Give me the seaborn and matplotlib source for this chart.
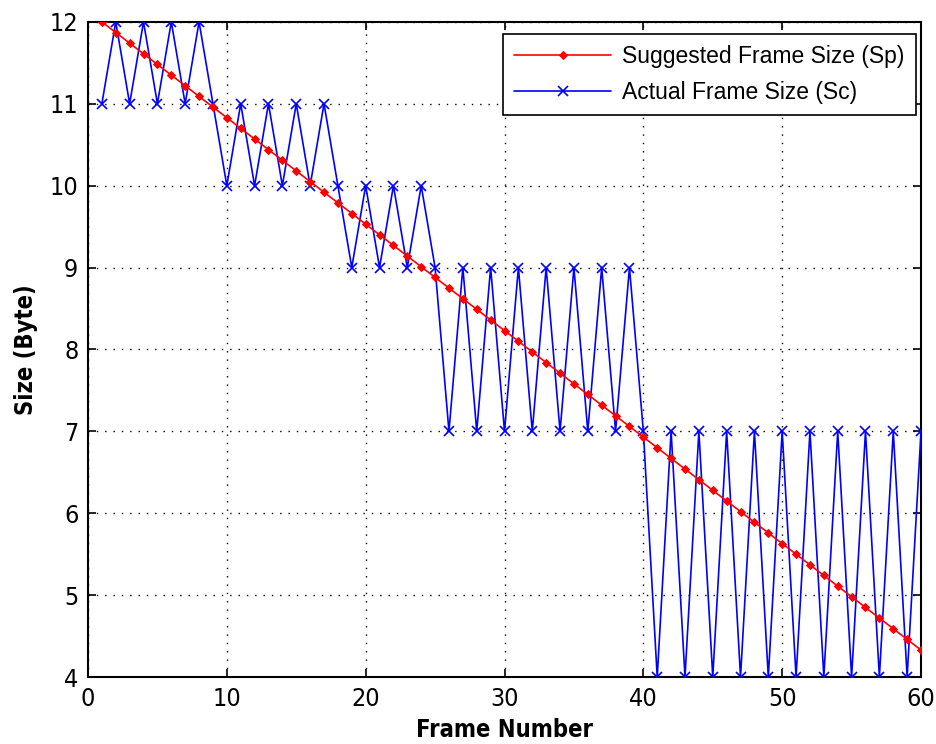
import matplotlib
matplotlib.use("Agg")
import matplotlib.pyplot as plt
import seaborn as sns
import pandas as pd

frames = list(range(1, 61))
suggested = [12.00, 11.87, 11.74, 11.61, 11.48, 11.35, 11.22, 11.09, 10.96, 10.83,
             10.70, 10.57, 10.44, 10.31, 10.18, 10.05, 9.92, 9.79, 9.66, 9.53,
             9.40, 9.27, 9.14, 9.01, 8.88, 8.75, 8.62, 8.49, 8.36, 8.23,
             8.10, 7.97, 7.84, 7.71, 7.58, 7.45, 7.32, 7.19, 7.06, 6.93,
             6.80, 6.67, 6.54, 6.41, 6.28, 6.15, 6.02, 5.89, 5.76, 5.63,
             5.50, 5.37, 5.24, 5.11, 4.98, 4.85, 4.72, 4.59, 4.46, 4.33]
actual = [11, 12, 11, 12, 11, 12, 11, 12, 11,
          10, 11, 10, 11, 10, 11, 10, 11, 10,
          9, 10, 9, 10, 9, 10, 9,
          7, 9, 7, 9, 7, 9, 7, 9, 7, 9, 7, 9, 7, 9, 7,
          4, 7, 4, 7, 4, 7, 4, 7, 4, 7, 4, 7, 4, 7, 4, 7, 4, 7, 4, 7]
series_names = ["Suggested Frame Size (Sp)", "Actual Frame Size (Sc)"]
x_ticks = [0, 10, 20, 30, 40, 50, 60]
y_ticks = [4, 5, 6, 7, 8, 9, 10, 11, 12]

sns.set_style("white")
plt.rcParams['font.family'] = ['DejaVu Sans']
plt.rcParams['text.color'] = 'black'
plt.rcParams['axes.labelcolor'] = 'black'
plt.rcParams['xtick.color'] = 'black'
plt.rcParams['ytick.color'] = 'black'

df = pd.DataFrame({"frame": frames, "sp": suggested, "sc": actual})

fig = plt.figure(figsize=(9.36, 7.44), dpi=100)
ax = fig.add_axes([0.094, 0.090, 0.890, 0.8806])

sns.lineplot(data=df, x="frame", y="sp", ax=ax, color="red", marker="D",
             markersize=4, markeredgecolor="red", linewidth=1.2,
             label=series_names[0], zorder=4)
sns.lineplot(data=df, x="frame", y="sc", ax=ax, color="blue", marker="x",
             markersize=7, markeredgecolor="blue", markeredgewidth=1.2,
             linewidth=1.2, label=series_names[1], zorder=3)

ax.set_xlim(0, 60)
ax.set_ylim(4, 12)
ax.set_xticks(x_ticks)
ax.set_yticks(y_ticks)
ax.set_xticklabels([str(t) for t in x_ticks], fontsize=18, fontstretch="condensed")
ax.set_yticklabels([str(t) for t in y_ticks], fontsize=18, fontstretch="condensed")
ax.grid(True, color="black", linestyle=(0, (1, 5)), linewidth=1.0)
ax.tick_params(direction="in", length=6, width=1.2, top=True, right=True,
               bottom=True, left=True, pad=7, colors="black")
for s in ax.spines.values():
    s.set_visible(True)
    s.set_color("black")
    s.set_linewidth(1.5)

ax.set_xlabel("Frame Number", fontsize=17, fontweight="bold",
              fontstretch="condensed", labelpad=5)
ax.set_ylabel("Size (Byte)", fontsize=17, fontweight="bold",
              fontstretch="condensed", labelpad=8)

leg = ax.legend(loc="upper right", frameon=True, fancybox=False,
                edgecolor="black", framealpha=1, borderpad=0.5,
                borderaxespad=0, handlelength=4.2, handletextpad=0.5,
                labelspacing=0.55,
                bbox_to_anchor=(0.994, 0.982),
                prop={"family": ["Liberation Sans", "DejaVu Sans"], "size": 16.5})
leg.get_frame().set_linewidth(1.2)

fig.savefig("out.png", dpi=100)
